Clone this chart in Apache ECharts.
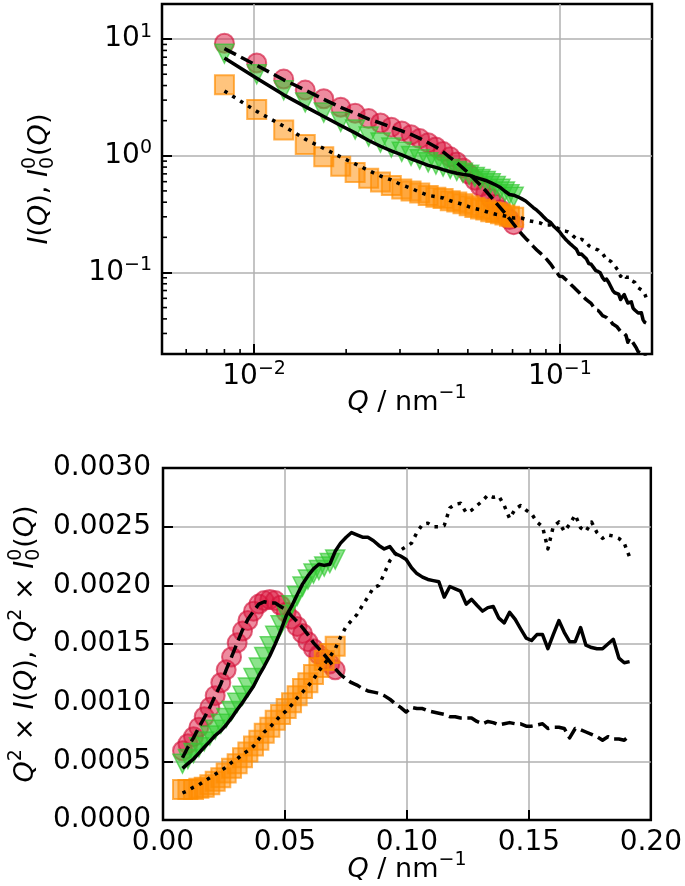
<!DOCTYPE html>
<html><head><meta charset="utf-8">
<script src="https://cdn.jsdelivr.net/npm/echarts@6/dist/echarts.min.js"></script>
<style>html,body{margin:0;padding:0;background:#fff}#c{width:685px;height:886px}</style>
</head><body><div id="c"></div>
<script>
// ---- data (Q in nm^-1, values are Q^2 x I(Q)) ----
const Q = [0.0080,0.0102,0.0125,0.0147,0.0169,0.0192,0.0214,0.0237,0.0259,0.0281,
0.0304,0.0326,0.0348,0.0371,0.0393,0.0415,0.0438,0.0460,0.0482,0.0505,
0.0527,0.0550,0.0572,0.0594,0.0617,0.0639,0.0661,0.0684,0.0706,0.0728,
0.0751,0.0773,0.0795,0.0818,0.0840,0.0863,0.0885,0.0907,0.0930,0.0952,
0.0974,0.0997,0.1019,0.1041,0.1064,0.1086,0.1108,0.1131,0.1153,0.1176,
0.1198,0.1220,0.1243,0.1265,0.1287,0.1310,0.1332,0.1354,0.1377,0.1399,
0.1421,0.1444,0.1466,0.1489,0.1511,0.1533,0.1556,0.1578,0.1600,0.1623,
0.1645,0.1667,0.1690,0.1712,0.1734,0.1757,0.1779,0.1802,0.1824,0.1846,
0.1869,0.1891,0.1913];

const lineDashed = [0.00053,0.00062,0.00070,0.00079,0.00087,0.00096,0.00106,0.00116,0.00128,0.00139,
0.00151,0.00162,0.00171,0.00178,0.00184,0.00186,0.00185,0.00185,0.00182,0.00179,
0.00174,0.00169,0.00164,0.00158,0.00151,0.00146,0.00141,0.00135,0.00129,0.00124,
0.00120,0.00117,0.00115,0.00112,0.00110,0.00109,0.00108,0.00106,0.00103,0.00099,
0.00096,0.00092,0.00096,0.00095,0.00095,0.00093,0.00092,0.00091,0.00090,0.00088,
0.00088,0.00087,0.00087,0.00087,0.00084,0.00082,0.00084,0.00083,0.00081,0.00082,
0.00083,0.00082,0.00082,0.00080,0.00080,0.00081,0.00082,0.00078,0.00079,0.00079,
0.00078,0.00070,0.00078,0.00077,0.00075,0.00073,0.00071,0.00068,0.00071,0.00069,
0.00069,0.00068,0.00072];

const lineSolid = [0.00044,0.00048,0.00052,0.00057,0.00062,0.00067,0.00072,0.00076,0.00081,0.00087,
0.00094,0.00100,0.00107,0.00114,0.00123,0.00131,0.00140,0.00150,0.00161,0.00174,
0.00182,0.00192,0.00201,0.00208,0.00214,0.00218,0.00217,0.00218,0.00229,0.00236,
0.00241,0.00245,0.00243,0.00241,0.00241,0.00238,0.00234,0.00231,0.00233,0.00227,
0.00225,0.00222,0.00215,0.00210,0.00207,0.00205,0.00204,0.00203,0.00190,0.00199,
0.00197,0.00195,0.00184,0.00188,0.00183,0.00178,0.00181,0.00182,0.00172,0.00168,
0.00177,0.00171,0.00163,0.00155,0.00153,0.00158,0.00158,0.00146,0.00158,0.00170,
0.00160,0.00152,0.00152,0.00164,0.00149,0.00147,0.00146,0.00146,0.00150,0.00154,
0.00138,0.00134,0.00135];

const lineDotted = [0.00023,0.00025,0.00028,0.00030,0.00033,0.00036,0.00039,0.00042,0.00045,0.00049,
0.00052,0.00056,0.00059,0.00063,0.00069,0.00075,0.00079,0.00084,0.00089,0.00093,
0.00098,0.00104,0.00109,0.00114,0.00120,0.00127,0.00133,0.00139,0.00146,0.00156,
0.00165,0.00170,0.00175,0.00183,0.00190,0.00198,0.00200,0.00210,0.00221,0.00226,
0.00230,0.00233,0.00236,0.00245,0.00252,0.00253,0.00250,0.00250,0.00251,0.00266,
0.00269,0.00270,0.00262,0.00264,0.00268,0.00272,0.00277,0.00275,0.00276,0.00268,
0.00257,0.00265,0.00268,0.00264,0.00261,0.00254,0.00250,0.00231,0.00250,0.00254,
0.00246,0.00252,0.00260,0.00249,0.00246,0.00254,0.00245,0.00240,0.00243,0.00242,
0.00240,0.00236,0.00224];

const markerRed = [0.00059,0.00065,0.00071,0.00079,0.00088,0.00096,0.00106,0.00117,0.00128,0.00139,
0.00151,0.00161,0.00170,0.00178,0.00184,0.00187,0.00188,0.00187,0.00183,0.00177,
0.00171,0.00165,0.00159,0.00152,0.00146,0.00141,0.00137,0.00133,0.00128];

const markerGreen = [0.00048,0.00052,0.00057,0.00062,0.00067,0.00072,0.00077,0.00082,0.00087,0.00093,
0.00100,0.00106,0.00113,0.00121,0.00130,0.00139,0.00148,0.00157,0.00166,0.00175,
0.00183,0.00191,0.00199,0.00205,0.00210,0.00213,0.00216,0.00219,0.00222];

const markerOrange = [0.00026,0.00026,0.00026,0.00027,0.00028,0.00030,0.00033,0.00036,0.00040,0.00044,
0.00048,0.00053,0.00058,0.00063,0.00068,0.00074,0.00079,0.00085,0.00090,0.00095,
0.00100,0.00106,0.00112,0.00117,0.00124,0.00130,0.00136,0.00142,0.00148];

// axis ranges and ticks
const X_LOG = [0.005, 0.2];
const Y_LOG = [0.02, 20];
const X_LIN = [0, 0.2, 0.05];
const Y_LIN = [0, 0.003, 0.0005];
const minorX = [0.006,0.007,0.008,0.009,0.02,0.03,0.04,0.05,0.06,0.07,0.08,0.09];
const minorY = [0.03,0.04,0.05,0.06,0.07,0.08,0.09,0.2,0.3,0.4,0.5,0.6,0.7,0.8,0.9,2,3,4,5,6,7,8,9];

// ---- rendering ----
const FONT = 'DejaVu Sans';
const chart = echarts.init(document.getElementById('c'));

const asV = arr => arr.map((v, i) => [Q[i], v]);
const asI = arr => arr.map((v, i) => [Q[i], v / (Q[i] * Q[i])]);

const mk = {
  red:    {symbol:'circle', itemStyle:{color:'rgba(220,20,60,0.62)', borderColor:'rgba(210,20,60,0.8)', borderWidth:2}},
  green:  {symbol:'triangle', symbolRotate:180, itemStyle:{color:'rgba(50,205,50,0.7)', borderColor:'rgba(50,200,50,0.85)', borderWidth:1.5}},
  orange: {symbol:'rect', itemStyle:{color:'rgba(255,140,0,0.64)', borderColor:'rgba(255,140,0,0.85)', borderWidth:2}}
};

function scatter(g, arr, style, conv) {
  return Object.assign({type:'scatter', xAxisIndex:g, yAxisIndex:g, data:conv(arr), symbolSize:19, z:2, silent:true}, style);
}
function line(g, arr, type, conv) {
  return {type:'line', xAxisIndex:g, yAxisIndex:g, data:conv(arr), showSymbol:false, symbol:'none', z:3, silent:true,
    lineStyle:{color:'#000', width:3.5, type:type, cap:'butt', join:'round'}};
}

const FS = 28;
const labelBase = {color:'#000', fontFamily:FONT, fontSize:FS};
const supRich = {
  b:{fontFamily:FONT, fontSize:FS, lineHeight:34, color:'#000'},
  s:{fontFamily:FONT, fontSize:19, lineHeight:19, verticalAlign:'top', color:'#000'}
};
const logFmt = v => {
  const e = Math.round(Math.log10(v));
  return '{b|10}{s|' + (e < 0 ? '\u2212' : '') + Math.abs(e) + '}';
};
const split = {show:true, showMinLine:false, showMaxLine:false, lineStyle:{color:'#b0b0b0', width:1.5}};
const tick = {show:true, inside:true, length:10, lineStyle:{color:'#000', width:2}};

const meas = document.createElement('canvas').getContext('2d');
function buildLabel(segs, cx, cy, rot) {
  const MAIN = 27, SMALL = 19;
  let x = 0; const items = [];
  for (const s of segs) {
    if (s.stack) {
      meas.font = SMALL + 'px "' + FONT + '"';
      const w = Math.max(meas.measureText(s.stack[0]).width, meas.measureText(s.stack[1]).width);
      items.push({t:s.stack[0], x:x, dy:-10, size:SMALL, it:false});
      items.push({t:s.stack[1], x:x, dy:8, size:SMALL, it:false});
      x += w + 1;
    } else {
      const size = s.sup ? SMALL : MAIN;
      meas.font = (s.it ? 'italic ' : '') + size + 'px "' + FONT + '"';
      const w = meas.measureText(s.t).width;
      items.push({t:s.t, x:x, dy:s.sup ? -10 : 0, size:size, it:!!s.it});
      x += w;
    }
  }
  const half = x / 2;
  return {type:'group', x:cx, y:cy, rotation: rot ? Math.PI / 2 : 0, silent:true,
    children: items.map(it => ({type:'text', x:it.x - half, y:it.dy,
      style:{text:it.t, fontSize:it.size, fontFamily:FONT, fontStyle:it.it ? 'italic' : 'normal', fill:'#000', align:'left', verticalAlign:'middle'}}))};
}

const xTitle = [{t:'Q', it:true}, {t:' / nm'}, {t:'\u22121', sup:true}];
const yTitleTop = [{t:'I', it:true}, {t:'('}, {t:'Q', it:true}, {t:'), '}, {t:'I', it:true}, {stack:['0','0']}, {t:'('}, {t:'Q', it:true}, {t:')'}];
const yTitleBot = [{t:'Q', it:true}, {t:'2', sup:true}, {t:' \u00d7 '}, {t:'I', it:true}, {t:'('}, {t:'Q', it:true}, {t:'), '},
  {t:'Q', it:true}, {t:'2', sup:true}, {t:' \u00d7 '}, {t:'I', it:true}, {stack:['0','0']}, {t:'('}, {t:'Q', it:true}, {t:')'}];

function minorSeries(data, horiz) {
  return {type:'custom', xAxisIndex:0, yAxisIndex:0, data:data, silent:true, clip:false, z:5,
    renderItem:(p, api) => {
      const c = api.coord([api.value(0), api.value(1)]);
      return {type:'line', shape: horiz ? {x1:c[0], y1:c[1], x2:c[0] + 5, y2:c[1]} : {x1:c[0], y1:c[1], x2:c[0], y2:c[1] - 5},
        style:{stroke:'#000', lineWidth:1.6}};
    }};
}

const option = {
  animation:false,
  backgroundColor:'#fff',
  grid:[
    {left:162, top:4, width:490, height:350, show:true, borderColor:'#000', borderWidth:2.5, backgroundColor:'rgba(0,0,0,0)'},
    {left:163, top:468, width:489, height:352, show:true, borderColor:'#000', borderWidth:2.5, backgroundColor:'rgba(0,0,0,0)'}
  ],
  xAxis:[
    {type:'log', logBase:10, gridIndex:0, min:X_LOG[0], max:X_LOG[1], axisLine:{show:false}, axisTick:tick, splitLine:split,
      axisLabel:{margin:6, formatter:logFmt, rich:supRich, showMinLabel:false, showMaxLabel:false}},
    {type:'value', gridIndex:1, min:X_LIN[0], max:X_LIN[1], interval:X_LIN[2], axisLine:{show:false}, axisTick:tick, splitLine:split,
      axisLabel:Object.assign({margin:6, lineHeight:34, formatter:v => v.toFixed(2)}, labelBase)}
  ],
  yAxis:[
    {type:'log', logBase:10, gridIndex:0, min:Y_LOG[0], max:Y_LOG[1], axisLine:{show:false}, axisTick:tick, splitLine:split,
      axisLabel:{margin:10, formatter:logFmt, rich:supRich, showMinLabel:false, showMaxLabel:false}},
    {type:'value', gridIndex:1, min:Y_LIN[0], max:Y_LIN[1], interval:Y_LIN[2], axisLine:{show:false}, axisTick:tick, splitLine:split,
      axisLabel:Object.assign({margin:12, formatter:v => v.toFixed(4)}, labelBase)}
  ],
  series:[
    scatter(0, markerRed, mk.red, asI), scatter(0, markerGreen, mk.green, asI), scatter(0, markerOrange, mk.orange, asI),
    line(0, lineDashed, [13, 5.6], asI), line(0, lineSolid, 'solid', asI), line(0, lineDotted, [3.5, 5.8], asI),
    scatter(1, markerRed, mk.red, asV), scatter(1, markerGreen, mk.green, asV), scatter(1, markerOrange, mk.orange, asV),
    line(1, lineDashed, [13, 5.6], asV), line(1, lineSolid, 'solid', asV), line(1, lineDotted, [3.5, 5.8], asV),
    minorSeries(minorX.map(v => [v, Y_LOG[0]]), false),
    minorSeries(minorY.map(v => [X_LOG[0], v]), true)
  ],
  graphic:[
    buildLabel(xTitle, 407, 403, false),
    buildLabel(xTitle, 407, 870, false),
    buildLabel(yTitleTop, 40, 179, true),
    buildLabel(yTitleBot, 26, 644, true)
  ]
};
chart.setOption(option);
</script>
</body></html>
